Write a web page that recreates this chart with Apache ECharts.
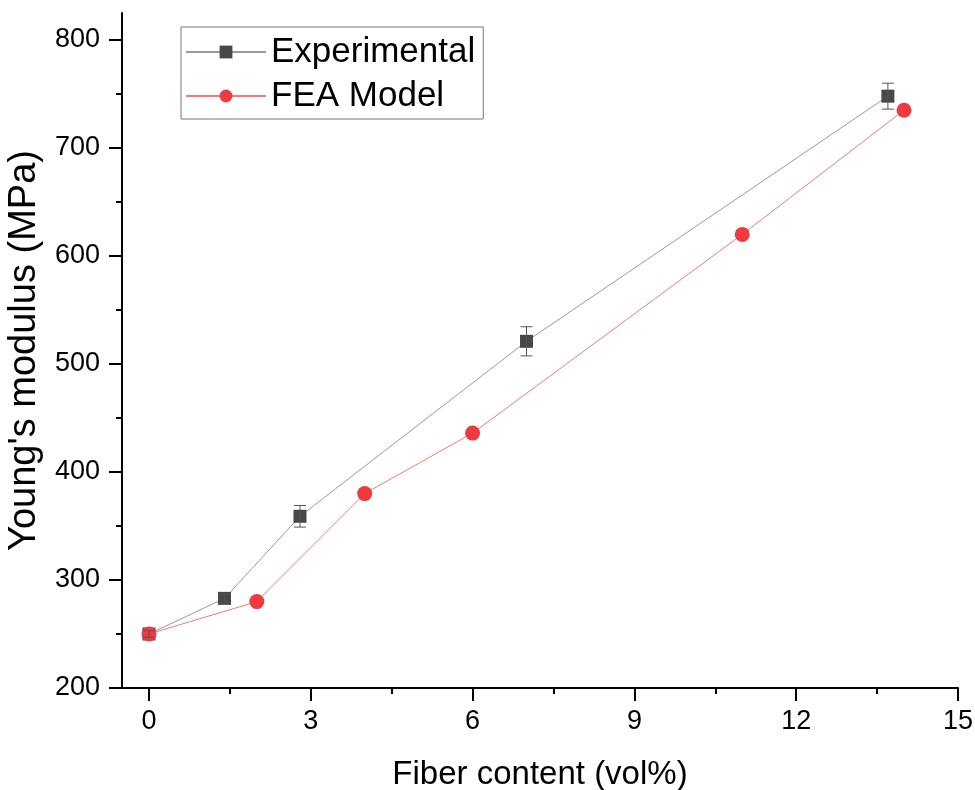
<!DOCTYPE html>
<html>
<head>
<meta charset="utf-8">
<script src="https://cdn.jsdelivr.net/npm/echarts@6/dist/echarts.min.js"></script>
<style>
  html, body { margin: 0; padding: 0; background: #fff; }
  #chart { width: 975px; height: 790px; }
</style>
</head>
<body>
<div id="chart"></div>
<script>
// experimental points (fiber vol%, modulus MPa, +/- error)
var expX = [0, 1.4, 2.8, 7, 13.7];
var expY = [250, 283, 359, 521, 748];
var expErr = [3, 4, 10, 13.5, 12];
// FEA model
var feaX = [0, 2, 4, 6, 11, 14];
var feaY = [250, 280, 380, 436, 620, 735];
// axis ticks
var xTicks = [0, 3, 6, 9, 12, 15];
var xMinor = [1.5, 4.5, 7.5, 10.5, 13.5];
var yTicks = [200, 300, 400, 500, 600, 700, 800];
var yMinor = [250, 350, 450, 550, 650, 750];

var font = "'Liberation Sans', Arial, sans-serif";

var expData = [], errData = [], feaData = [];
for (var i = 0; i < expX.length; i++) {
  expData.push([expX[i], expY[i]]);
  errData.push([expX[i], expY[i] - expErr[i], expY[i] + expErr[i]]);
}
for (var j = 0; j < feaX.length; j++) {
  feaData.push([feaX[j], feaY[j]]);
}

var myChart = echarts.init(document.getElementById('chart'));

function errBar(params, api) {
  var x = api.value(0);
  var top = api.coord([x, api.value(2)]);
  var bot = api.coord([x, api.value(1)]);
  var w = 6;
  var st = { stroke: '#555', lineWidth: 1 };
  return {
    type: 'group',
    children: [
      { type: 'line', shape: { x1: top[0], y1: top[1], x2: bot[0], y2: bot[1] }, style: st },
      { type: 'line', shape: { x1: top[0] - w, y1: top[1], x2: top[0] + w, y2: top[1] }, style: st },
      { type: 'line', shape: { x1: bot[0] - w, y1: bot[1], x2: bot[0] + w, y2: bot[1] }, style: st }
    ]
  };
}

myChart.setOption({
  animation: false,
  backgroundColor: '#fff',
  grid: { left: 122, right: 17, top: 13, bottom: 102, containLabel: false, outerBoundsMode: 'none' },
  legend: {
    orient: 'vertical',
    left: 181,
    top: 27,
    padding: [6, 8, 4, 4],
    itemGap: 6,
    itemWidth: 80,
    itemHeight: 16,
    borderColor: '#777',
    borderWidth: 1,
    textStyle: { fontFamily: font, fontSize: 35, color: '#000', lineHeight: 38 },
    data: ['Experimental', 'FEA Model']
  },
  xAxis: [
    {
      type: 'value',
      min: -0.5,
      max: 15,
      name: 'Fiber content (vol%)',
      nameLocation: 'middle',
      nameGap: 70,
      nameTextStyle: { fontFamily: font, fontSize: 33, color: '#000' },
      axisLine: { show: true, onZero: false, lineStyle: { color: '#000', width: 2 } },
      axisTick: { show: true, inside: false, length: 13, customValues: xTicks, lineStyle: { color: '#000', width: 2 } },
      axisLabel: { customValues: xTicks, margin: 20, fontFamily: font, fontSize: 27, color: '#000' },
      splitLine: { show: false }
    },
    {
      type: 'value',
      min: -0.5,
      max: 15,
      position: 'bottom',
      axisLine: { show: false, onZero: false },
      axisTick: { show: true, length: 6, customValues: xMinor, lineStyle: { color: '#000', width: 2 } },
      axisLabel: { show: false, customValues: xMinor },
      splitLine: { show: false }
    }
  ],
  yAxis: [
    {
      type: 'value',
      min: 200,
      max: 825,
      name: "Young's modulus (MPa)",
      nameLocation: 'middle',
      nameGap: 78,
      nameTextStyle: { fontFamily: font, fontSize: 38, color: '#000' },
      axisLine: { show: true, onZero: false, lineStyle: { color: '#000', width: 2 } },
      axisTick: { show: true, inside: false, length: 13, customValues: yTicks, lineStyle: { color: '#000', width: 2 } },
      axisLabel: { customValues: yTicks, margin: 22, fontFamily: font, fontSize: 27, color: '#000' },
      splitLine: { show: false }
    },
    {
      type: 'value',
      min: 200,
      max: 825,
      position: 'left',
      offset: 0,
      axisLine: { show: false, onZero: false },
      axisTick: { show: true, length: 6, customValues: yMinor, lineStyle: { color: '#000', width: 2 } },
      axisLabel: { show: false, customValues: yMinor },
      splitLine: { show: false }
    }
  ],
  series: [
    {
      name: 'Experimental',
      type: 'line',
      xAxisIndex: 0,
      yAxisIndex: 0,
      data: expData,
      symbol: 'rect',
      symbolSize: 13,
      itemStyle: { color: '#484848' },
      lineStyle: { color: '#9a9a9a', width: 1 },
      z: 2
    },
    {
      name: 'FEA Model',
      type: 'line',
      xAxisIndex: 0,
      yAxisIndex: 0,
      data: feaData,
      symbol: 'circle',
      symbolSize: 15,
      itemStyle: { color: '#f03a40' },
      lineStyle: { color: '#f77', width: 1 },
      z: 3
    },
    {
      name: 'err',
      type: 'custom',
      xAxisIndex: 0,
      yAxisIndex: 0,
      renderItem: errBar,
      data: errData,
      z: 4,
      silent: true
    }
  ]
});
</script>
</body>
</html>
